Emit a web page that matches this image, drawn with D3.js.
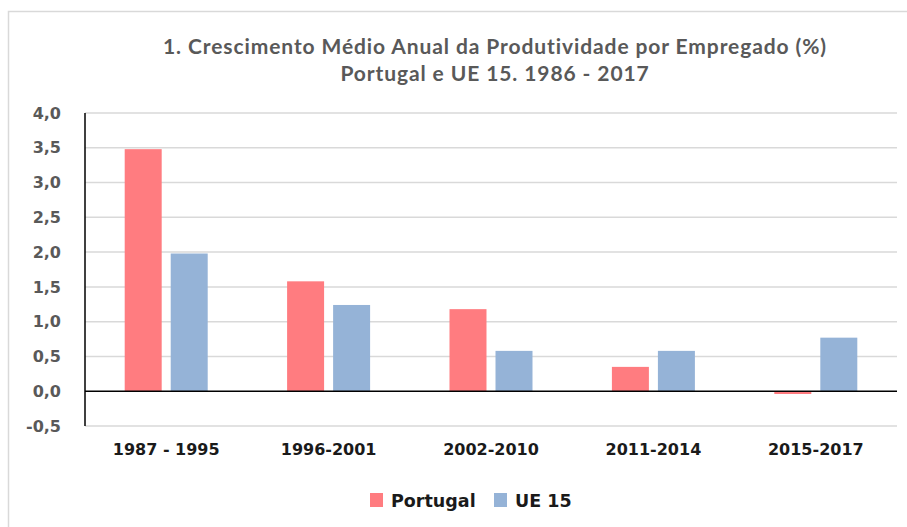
<!DOCTYPE html>
<html>
<head>
<meta charset="utf-8">
<script src="https://cdn.jsdelivr.net/npm/d3@7"></script>
<style>
  body { margin: 0; background: #fff; }
</style>
</head>
<body>
<div id="chart"></div>
<script>
// Data
var periods = ["1987 - 1995", "1996-2001", "2002-2010", "2011-2014", "2015-2017"];
var seriesNames = ["Portugal", "UE 15"];
var portugal = [3.48, 1.58, 1.18, 0.35, -0.04];
var ue15 = [1.98, 1.24, 0.58, 0.58, 0.77];
var yTicks = [-0.5, 0, 0.5, 1, 1.5, 2, 2.5, 3, 3.5, 4];
var titleLines = ["1. Crescimento Médio Anual da Produtividade por Empregado (%)",
                  "Portugal e UE 15. 1986 - 2017"];

var colors = { "Portugal": "#ff7c80", "UE 15": "#95b3d7" };

var svgWidth = 907;
var svgHeight = 527;
var margin = { top: 113, right: 10, bottom: 101, left: 85 };
var width = 897 - margin.left;
var height = 426 - margin.top;

var svg = d3.select("#chart")
  .append("svg")
  .attr("width", svgWidth)
  .attr("height", svgHeight);

// outer chart frame (only top and left edges are visible)
svg.append("path")
  .attr("d", "M8.5," + svgHeight + "V11.5H" + svgWidth)
  .attr("fill", "none")
  .attr("stroke", "#d9d9d9")
  .attr("stroke-width", 1.5);

// title
svg.append("text")
  .attr("text-anchor", "middle")
  .attr("font-family", "Lato, 'Liberation Sans Narrow', sans-serif")
  .attr("font-weight", "bold")
  .attr("font-size", "21px")
  .attr("letter-spacing", "0.9px")
  .attr("fill", "#595959")
  .selectAll("tspan")
  .data(titleLines)
  .enter()
  .append("tspan")
  .attr("x", 495)
  .attr("y", (d, i) => 54 + i * 27)
  .text(d => d);

var g = svg.append("g")
  .attr("transform", `translate(${margin.left}, ${margin.top})`);

var y = d3.scaleLinear()
  .domain([-0.5, 4])
  .range([height, 0]);

var x0 = d3.scaleBand()
  .domain(periods)
  .range([0, width]);

var x1 = d3.scaleBand()
  .domain(seriesNames)
  .range([x0.bandwidth() / 2 - 41.5, x0.bandwidth() / 2 + 41.5])
  .paddingInner(0.196);

// gridlines
g.append("g")
  .selectAll("line")
  .data(yTicks.filter(d => d !== 0))
  .enter()
  .append("line")
  .attr("x1", 0)
  .attr("x2", width)
  .attr("y1", d => y(d))
  .attr("y2", d => y(d))
  .attr("stroke", "#d9d9d9")
  .attr("stroke-width", 1.5);

// y axis labels
var leftAxis = d3.axisLeft(y)
  .tickValues(yTicks)
  .tickSize(0)
  .tickPadding(24)
  .tickFormat(d => d3.format(".1f")(d).replace(".", ",").replace("−", "-"));

var yAxis = g.append("g").call(leftAxis);
yAxis.select(".domain").remove();
yAxis.selectAll("text")
  .attr("font-family", "'DejaVu Sans', sans-serif")
  .attr("font-weight", "bold")
  .attr("font-size", "16px")
  .attr("fill", "#595959");

// bars
var rows = periods.map((p, i) => ({ period: p, values: [
  { name: "Portugal", value: portugal[i] },
  { name: "UE 15", value: ue15[i] }
]}));

g.selectAll(".group")
  .data(rows)
  .enter()
  .append("g")
  .attr("transform", d => `translate(${x0(d.period)}, 0)`)
  .selectAll("rect")
  .data(d => d.values)
  .enter()
  .append("rect")
  .attr("x", d => x1(d.name))
  .attr("width", x1.bandwidth())
  .attr("y", d => y(Math.max(0, d.value)))
  .attr("height", d => Math.abs(y(d.value) - y(0)))
  .attr("fill", d => colors[d.name]);

// zero line and vertical axis
g.append("line")
  .attr("x1", 0).attr("x2", width)
  .attr("y1", y(0)).attr("y2", y(0))
  .attr("stroke", "#000").attr("stroke-width", 1.5);
g.append("line")
  .attr("x1", 0).attr("x2", 0)
  .attr("y1", 0).attr("y2", height)
  .attr("stroke", "#000").attr("stroke-width", 1.5);

// category labels
var bottomAxis = d3.axisBottom(x0).tickSize(0).tickPadding(18);
var xAxis = g.append("g")
  .attr("transform", `translate(0, ${height})`)
  .call(bottomAxis);
xAxis.select(".domain").remove();
xAxis.selectAll("text")
  .attr("font-family", "'DejaVu Sans', sans-serif")
  .attr("font-weight", "bold")
  .attr("font-size", "16px")
  .attr("fill", "#1a1a1a");

// legend
var legendX = [370, 494];
var legend = svg.append("g")
  .selectAll("g")
  .data(seriesNames)
  .enter()
  .append("g")
  .attr("transform", (d, i) => `translate(${legendX[i]}, 493)`);
legend.append("rect")
  .attr("width", 13)
  .attr("height", 14)
  .attr("fill", d => colors[d]);
legend.append("text")
  .attr("x", 21)
  .attr("y", 14)
  .attr("font-family", "'DejaVu Sans', sans-serif")
  .attr("font-weight", "bold")
  .attr("font-size", "17.5px")
  .attr("fill", "#1a1a1a")
  .text(d => d);
</script>
</body>
</html>
